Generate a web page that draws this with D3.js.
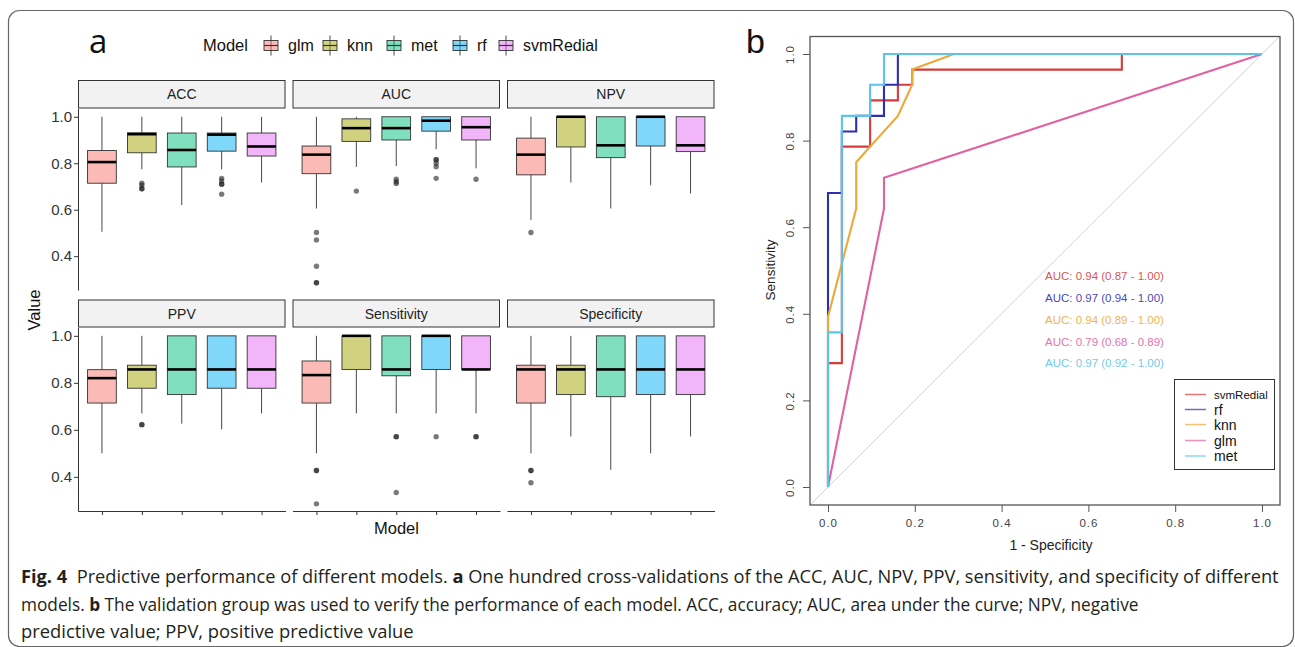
<!DOCTYPE html>
<html><head><meta charset="utf-8">
<script src="https://cdn.jsdelivr.net/npm/d3@7"></script>
<style>body{margin:0;background:#fff;} svg{display:block;font-family:"Liberation Sans",Arial,sans-serif;}</style>
</head><body><svg id="c" width="1295" height="647"></svg>
<script>
// ---------- DATA: panel a ----------
const models = ["glm","knn","met","rf","svmRedial"];
const modelColors = ["#F8766D","#A3A500","#00BF7D","#00B0F6","#E76BF3"];
const metrics = ["ACC","AUC","NPV","PPV","Sensitivity","Specificity"];
const yTicksA = [0.4,0.6,0.8,1.0];
// [lower whisker, Q1, median, Q3, upper whisker] per model (glm, knn, met, rf, svmRedial)
const accStats  = [[0.505,0.714,0.805,0.855,1.0],[0.774,0.845,0.925,0.931,1.0],[0.62,0.784,0.857,0.93,1.0],[0.774,0.852,0.923,0.93,1.0],[0.717,0.831,0.872,0.93,1.0]];
const aucStats  = [[0.605,0.755,0.837,0.874,1.0],[0.784,0.894,0.951,0.991,1.0],[0.788,0.9,0.951,1.0,1.0],[0.86,0.938,0.983,1.0,1.0],[0.778,0.9,0.955,1.0,1.0]];
const npvStats  = [[0.556,0.75,0.837,0.908,1.0],[0.717,0.87,1.0,1.0,1.0],[0.605,0.824,0.877,1.0,1.0],[0.705,0.874,1.0,1.0,1.0],[0.67,0.85,0.877,1.0,1.0]];
const ppvStats  = [[0.5,0.714,0.82,0.856,1.0],[0.67,0.777,0.857,0.875,1.0],[0.626,0.75,0.857,1.0,1.0],[0.602,0.777,0.857,1.0,1.0],[0.67,0.777,0.857,1.0,1.0]];
const sensStats = [[0.5,0.714,0.833,0.893,1.0],[0.67,0.857,1.0,1.0,1.0],[0.67,0.83,0.857,1.0,1.0],[0.67,0.857,1.0,1.0,1.0],[0.67,0.857,0.857,1.0,1.0]];
const specStats = [[0.5,0.714,0.857,0.875,1.0],[0.572,0.75,0.857,0.875,1.0],[0.43,0.741,0.857,1.0,1.0],[0.5,0.75,0.857,1.0,1.0],[0.572,0.75,0.857,1.0,1.0]];
// outliers (repeated values = overlapping points)
const accOut  = [[],[0.714,0.705,0.69,0.69],[],[0.735,0.724,0.71,0.71,0.667],[]];
const aucOut  = [[0.502,0.47,0.357,0.286,0.286],[0.68],[0.731,0.72,0.713],[0.815,0.815,0.80,0.785,0.735],[0.731]];
const npvOut  = [[0.502],[],[],[],[]];
const ppvOut  = [[],[0.622,0.622],[],[],[]];
const sensOut = [[0.427,0.427,0.285],[],[0.571,0.571,0.333],[0.571],[0.571,0.571]];
const specOut = [[0.427,0.427,0.375],[],[],[],[]];

// ---------- DATA: panel b (ROC curves, [1-specificity, sensitivity]) ----------
const rocModels = ["svmRedial","rf","knn","glm","met"];
const rocColors = ["#D83A3A","#2E2EB0","#EFA738","#E0629E","#5CC4E8"];
const rocSvm = [[0,0],[0,0.286],[0.032,0.286],[0.032,0.786],[0.097,0.786],[0.097,0.893],[0.161,0.893],[0.161,0.929],[0.194,0.929],[0.194,0.964],[0.677,0.964],[0.677,1],[1,1]];
const rocRf  = [[0,0],[0,0.679],[0.032,0.679],[0.032,0.821],[0.065,0.821],[0.065,0.857],[0.129,0.857],[0.129,0.929],[0.161,0.929],[0.161,1],[1,1]];
const rocKnn = [[0,0],[0,0.393],[0.065,0.643],[0.065,0.75],[0.097,0.786],[0.161,0.857],[0.194,0.929],[0.194,0.964],[0.290,1],[1,1]];
const rocGlm = [[0,0],[0.129,0.643],[0.129,0.714],[1,1]];
const rocMet = [[0,0],[0,0.357],[0.032,0.357],[0.032,0.857],[0.097,0.857],[0.097,0.929],[0.129,0.929],[0.129,1],[1,1]];
const aucLabels = ["AUC: 0.94 (0.87 - 1.00)","AUC: 0.97 (0.94 - 1.00)","AUC: 0.94 (0.89 - 1.00)","AUC: 0.79 (0.68 - 0.89)","AUC: 0.97 (0.92 - 1.00)"];
const rocTicks = [0,0.2,0.4,0.6,0.8,1.0];

const captionLines = [
  [["Fig. 4",true],["  Predictive performance of different models. ",false],["a",true],[" One hundred cross-validations of the ACC, AUC, NPV, PPV, sensitivity, and specificity of different",false]],
  [["models. ",false],["b",true],[" The validation group was used to verify the performance of each model. ACC, accuracy; AUC, area under the curve; NPV, negative",false]],
  [["predictive value; PPV, positive predictive value",false]]
];

// ---------- DRAW ----------
const svg = d3.select("#c");
svg.append("rect").attr("x",8.5).attr("y",10.5).attr("width",1285).attr("height",636)
  .attr("rx",11).attr("fill","none").attr("stroke","#666").attr("stroke-width",1.2);

svg.append("text").attr("x",89).attr("y",53).attr("font-size",33).attr("font-family","Open Sans, sans-serif").attr("fill","#111").text("a");
svg.append("text").attr("x",746).attr("y",53).attr("font-size",34).attr("font-family","Liberation Sans, Arial").attr("fill","#111").text("b");

// ---- panel a ----
const allStats = [accStats,aucStats,npvStats,ppvStats,sensStats,specStats];
const allOut = [accOut,aucOut,npvOut,ppvOut,sensOut,specOut];
const colL = [78,292.5,507], colW = 207.5;
const rows = [{stripTop:80,top:108.5,bottom:290},{stripTop:299.5,top:327.5,bottom:511}];
const yDomain = [0.2545,1.0355];
const ink = "#333";

metrics.forEach((m,k)=>{
  const r = Math.floor(k/3), c = k%3;
  const R = rows[r], L = colL[c];
  const g = svg.append("g");
  const xs = d3.scalePoint().domain(models).range([L,L+colW]).padding(0.6);
  const ys = d3.scaleLinear().domain(yDomain).range([R.bottom,R.top]);
  const bw = xs.step()*0.72;
  g.append("rect").attr("x",L+0.5).attr("y",R.stripTop+0.5).attr("width",colW-1).attr("height",R.top-R.stripTop-1)
    .attr("fill","#F2F2F2").attr("stroke","#333").attr("stroke-width",1);
  g.append("text").attr("x",L+colW/2).attr("y",(R.stripTop+R.top)/2+5).attr("text-anchor","middle")
    .attr("font-size",14).attr("fill","#222").text(m);
  const st = allStats[k], outs = allOut[k];
  models.forEach((md,i)=>{
    const cx = xs(md), s = st[i];
    g.append("line").attr("x1",cx).attr("x2",cx).attr("y1",ys(s[0])).attr("y2",ys(s[1])).attr("stroke",ink).attr("stroke-width",0.9);
    g.append("line").attr("x1",cx).attr("x2",cx).attr("y1",ys(s[3])).attr("y2",ys(s[4])).attr("stroke",ink).attr("stroke-width",0.9);
    g.append("rect").attr("x",cx-bw/2).attr("y",ys(s[3])).attr("width",bw).attr("height",Math.max(0.5,ys(s[1])-ys(s[3])))
      .attr("fill",modelColors[i]).attr("fill-opacity",0.5).attr("stroke",ink).attr("stroke-width",0.9);
    g.append("line").attr("x1",cx-bw/2).attr("x2",cx+bw/2).attr("y1",ys(s[2])).attr("y2",ys(s[2])).attr("stroke","#000").attr("stroke-width",2.6);
    outs[i].forEach(v=>{
      g.append("circle").attr("cx",cx).attr("cy",ys(v)).attr("r",2.7).attr("fill","#222").attr("fill-opacity",0.6);
    });
  });
  if(c===0){
    const ax = g.append("g").attr("transform",`translate(${L},0)`)
      .call(d3.axisLeft(ys).tickValues(yTicksA).tickFormat(d3.format(".1f")).tickSize(4).tickSizeOuter(0));
    ax.select(".domain").attr("stroke","#333");
    ax.selectAll(".tick line").attr("stroke","#333");
    ax.selectAll(".tick text").attr("font-size",15).attr("fill","#333").attr("font-family","Liberation Sans, Arial").attr("x",-6);
  }
  if(r===1){
    const ax = g.append("g").attr("transform",`translate(0,${R.bottom})`)
      .call(d3.axisBottom(xs).tickSize(4).tickSizeOuter(0).tickFormat(""));
    ax.select(".domain").attr("stroke","#333");
    ax.selectAll(".tick line").attr("stroke","#333");
  }
});
svg.append("text").attr("transform","translate(40,310) rotate(-90)").attr("text-anchor","middle")
  .attr("font-size",16.5).attr("fill","#111").text("Value");
svg.append("text").attr("x",396.5).attr("y",534).attr("text-anchor","middle")
  .attr("font-size",16.5).attr("fill","#111").text("Model");

const legY = 45.5;
svg.append("text").attr("x",203).attr("y",legY+5.8).attr("font-size",16.5).attr("fill","#111").text("Model");
const legTextX = [288,347,411,477,523];
models.forEach((md,i)=>{
  const kx = legTextX[i]-17;
  svg.append("line").attr("x1",kx).attr("x2",kx).attr("y1",legY-10).attr("y2",legY+10).attr("stroke",ink).attr("stroke-width",0.9);
  svg.append("rect").attr("x",kx-7).attr("y",legY-5).attr("width",14).attr("height",10)
    .attr("fill",modelColors[i]).attr("fill-opacity",0.5).attr("stroke",ink).attr("stroke-width",0.9);
  svg.append("line").attr("x1",kx-7).attr("x2",kx+7).attr("y1",legY).attr("y2",legY).attr("stroke",ink).attr("stroke-width",1.2);
  svg.append("text").attr("x",legTextX[i]).attr("y",legY+5.8).attr("font-size",16).attr("fill","#111").text(md);
});

// ---- panel b ----
const bx = d3.scaleLinear().domain([0,1]).range([828,1262]);
const by = d3.scaleLinear().domain([0,1]).range([487,54]);
const box = {x0:810,x1:1280,y0:36.5,y1:505};
svg.append("clipPath").attr("id","bclip").append("rect").attr("x",box.x0).attr("y",box.y0).attr("width",box.x1-box.x0).attr("height",box.y1-box.y0);
const gb = svg.append("g");
gb.append("line").attr("clip-path","url(#bclip)").attr("x1",bx(-0.1)).attr("y1",by(-0.1)).attr("x2",bx(1.1)).attr("y2",by(1.1))
  .attr("stroke","#CFCFCF").attr("stroke-width",1);
const rocData = [rocSvm,rocRf,rocKnn,rocGlm,rocMet];
const lineGen = d3.line().x(d=>bx(d[0])).y(d=>by(d[1]));
rocData.forEach((dd,i)=>{
  gb.append("path").attr("d",lineGen(dd)).attr("fill","none").attr("stroke",rocColors[i]).attr("stroke-width",2.1)
    .attr("stroke-linejoin","miter");
});
gb.append("rect").attr("x",box.x0).attr("y",box.y0).attr("width",box.x1-box.x0).attr("height",box.y1-box.y0)
  .attr("fill","none").attr("stroke","#555").attr("stroke-width",1.3);
const axB = gb.append("g").attr("transform",`translate(0,${box.y1})`)
  .call(d3.axisBottom(bx).tickValues(rocTicks).tickFormat(d3.format(".1f")).tickSize(7).tickSizeOuter(0));
axB.select(".domain").remove();
axB.selectAll(".tick line").attr("stroke","#555");
axB.selectAll(".tick text").attr("font-size",11.5).attr("fill","#444").attr("y",14).attr("letter-spacing",1);
const axL = gb.append("g").attr("transform",`translate(${box.x0},0)`)
  .call(d3.axisLeft(by).tickValues(rocTicks).tickFormat(d3.format(".1f")).tickSize(7).tickSizeOuter(0));
axL.select(".domain").remove();
axL.selectAll(".tick line").attr("stroke","#555");
axL.selectAll(".tick text").attr("font-size",11.5).attr("fill","#444").attr("letter-spacing",1)
  .attr("x",0).attr("dy",0).attr("text-anchor","middle").attr("transform","translate(-16,0) rotate(-90)");
gb.append("text").attr("x",1051).attr("y",550).attr("text-anchor","middle").attr("font-size",14).attr("fill","#222").text("1 - Specificity");
gb.append("text").attr("transform","translate(775,270) rotate(-90)").attr("text-anchor","middle").attr("font-size",13.5).attr("fill","#222").text("Sensitivity");
const aucY = [280,302,324,345.5,367];
aucLabels.forEach((t,i)=>{
  gb.append("text").attr("x",1045).attr("y",aucY[i]).attr("font-size",11.5).attr("fill",rocColors[i]).attr("fill-opacity",0.9).text(t);
});
gb.append("rect").attr("x",1174.5).attr("y",379.5).attr("width",100).attr("height",90).attr("fill","#fff").attr("stroke","#333").attr("stroke-width",1);
const legBY = [394.5,409.5,424.5,440.5,456];
rocModels.forEach((md,i)=>{
  gb.append("line").attr("x1",1185).attr("x2",1206).attr("y1",legBY[i]).attr("y2",legBY[i]).attr("stroke",rocColors[i]).attr("stroke-opacity",0.7).attr("stroke-width",1.5);
  gb.append("text").attr("x",1214).attr("y",legBY[i]+(i===0?4:5)).attr("font-size",i===0?11.5:14).attr("fill","#111").text(md);
});

// ---- caption (scaled horizontally to the reference's condensed line widths) ----
const capY = [583,611,638], capW = [1258,1118,393];
captionLines.forEach((ln,li)=>{
  const t = svg.append("text").attr("font-size",18).attr("fill","#231F20")
    .attr("font-family","Open Sans, sans-serif").attr("xml:space","preserve")
    .attr("transform",`translate(21,${capY[li]})`);
  ln.forEach(([s,b])=>{ t.append("tspan").attr("font-weight",b?"bold":"normal").text(s); });
  const w = t.node().getComputedTextLength();
  t.attr("transform",`translate(21,${capY[li]}) scale(${capW[li]/w},1)`);
});
</script></body></html>
